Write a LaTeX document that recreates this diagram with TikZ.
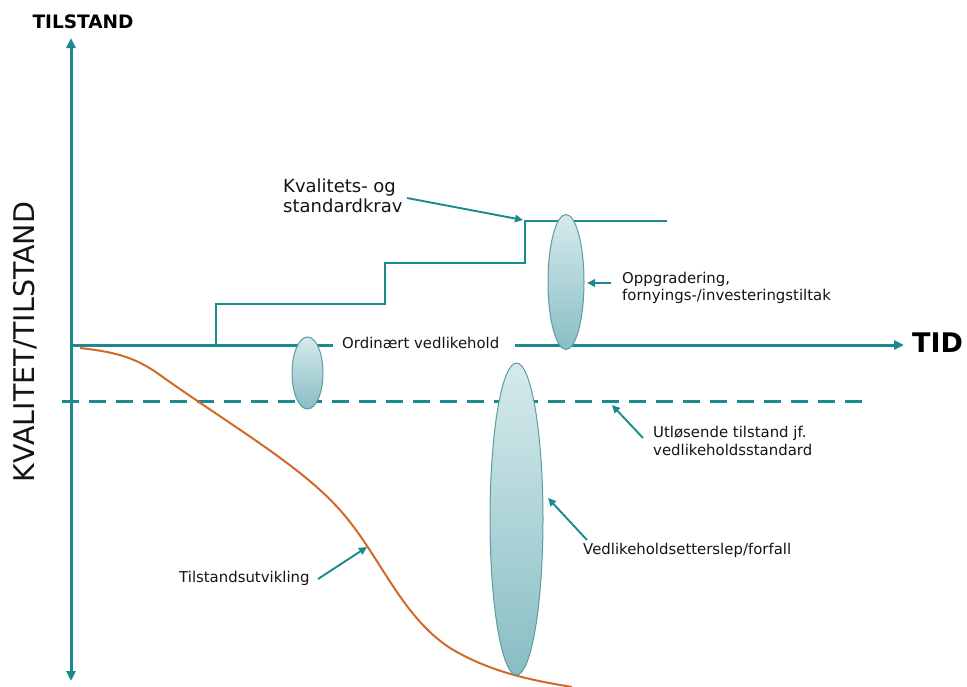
\documentclass[tikz,border=0pt]{standalone}
\usepackage{fontspec}
\setmainfont{DejaVu Sans}
\usetikzlibrary{arrows.meta,shapes.geometric}
\definecolor{teal1}{RGB}{26,138,142}
\definecolor{orng}{RGB}{210,105,40}
\definecolor{elltop}{RGB}{214,234,236}
\definecolor{ellbot}{RGB}{136,190,196}
\definecolor{elledge}{RGB}{90,158,163}
\definecolor{txt}{RGB}{20,20,20}
\tikzset{
  axisline/.style={teal1, line width=3pt, -{Triangle[length=10pt,width=9pt]}},
  stepline/.style={teal1, line width=2.8pt},
  pointer/.style={teal1, line width=1.9pt, -{Triangle[length=8pt,width=7.5pt]}},
  lbl/.style={font=\fontsize{14.9}{17.5}\selectfont, text=txt, inner sep=0pt, align=left},
  blob/.style={ellipse, draw=elledge, line width=1pt, top color=elltop, bottom color=ellbot, inner sep=0pt},
}
\begin{document}
\begin{tikzpicture}[x=1pt,y=-1pt]
\useasboundingbox (0,0) rectangle (967,686);
% axes
\coordinate (origin) at (71,345);
\coordinate (ytop) at (71,38);
\coordinate (ybot) at (71,681);
\draw[axisline] (origin) -- (ytop);
\draw[axisline] (origin) -- (ybot);
\node[font=\bfseries\fontsize{18.5}{20}\selectfont, inner sep=0pt] (tilstand) at (83,22) {TILSTAND};
\node[font=\fontsize{28.5}{30}\selectfont, rotate=90, inner sep=0pt, text=txt] (kval) at (25,342) {KVALITET/TILSTAND};
\node[lbl, anchor=west] (ordv) at (342,343) {Ordinært vedlikehold};
\coordinate (axL) at (333,345);
\coordinate (axR) at (515,345);
\coordinate (xend) at (904,345);
\draw[stepline, line width=3pt] (origin) -- (axL);
\draw[axisline] (axR) -- (xend);
\node[font=\bfseries\fontsize{27}{29}\selectfont, inner sep=0pt, anchor=west] (tid) at (912,343) {TID};
% steps
\coordinate (s0) at (216,345);
\coordinate (s1) at (216,304);
\coordinate (s2) at (385,304);
\coordinate (s3) at (385,263);
\coordinate (s4) at (525,263);
\coordinate (s5) at (525,221);
\coordinate (s6) at (667,221);
\draw[stepline] (s0) -- (s1) -- (s2) -- (s3) -- (s4) -- (s5) -- (s6);
% dashed threshold
\coordinate (dL) at (62,401);
\coordinate (dR) at (870,401);
\draw[teal1, line width=3pt, dash pattern=on 17pt off 10pt] (dL) -- (dR);
% condition curve
\draw[orng, line width=2pt] (80,348) .. controls (115,352) and (135,357) .. (160,375)
  .. controls (230,425) and (300,465) .. (340,510)
  .. controls (380,555) and (400,615) .. (450,648)
  .. controls (490,672) and (530,680) .. (572,687);
% ellipses
\node[blob, minimum width=31pt, minimum height=72pt] (esmall) at (307.5,373) {};
\node[blob, minimum width=36pt, minimum height=135pt] (eup) at (566,282) {};
\node[blob, minimum width=53pt, minimum height=312pt] (ebig) at (516.5,519) {};
% labels
\node[lbl, font=\fontsize{18}{19.5}\selectfont, anchor=north west] (kvl) at (283,179) {Kvalitets- og\\standardkrav};
\coordinate (kvs) at (407,198);
\coordinate (kve) at (523,220);
\draw[pointer] (kvs) -- (kve);
\node[lbl, anchor=west] (opp) at (622,288) {Oppgradering,\\fornyings-/investeringstiltak};
\coordinate (ops) at (611,283);
\coordinate (ope) at (587,283);
\draw[pointer] (ops) -- (ope);
\node[lbl, anchor=west] (utl) at (653,441) {Utløsende tilstand jf.\\vedlikeholdsstandard};
\coordinate (uts) at (643,438);
\coordinate (ute) at (612,405);
\draw[pointer] (uts) -- (ute);
\node[lbl, anchor=west] (ved) at (583,550) {Vedlikeholdsetterslep/forfall};
\coordinate (vds) at (587,540);
\coordinate (vde) at (548,498);
\draw[pointer] (vds) -- (vde);
\node[lbl, anchor=west] (tsu) at (179,578) {Tilstandsutvikling};
\coordinate (tss) at (318,579);
\coordinate (tse) at (367,547);
\draw[pointer] (tss) -- (tse);
\end{tikzpicture}
\end{document}
